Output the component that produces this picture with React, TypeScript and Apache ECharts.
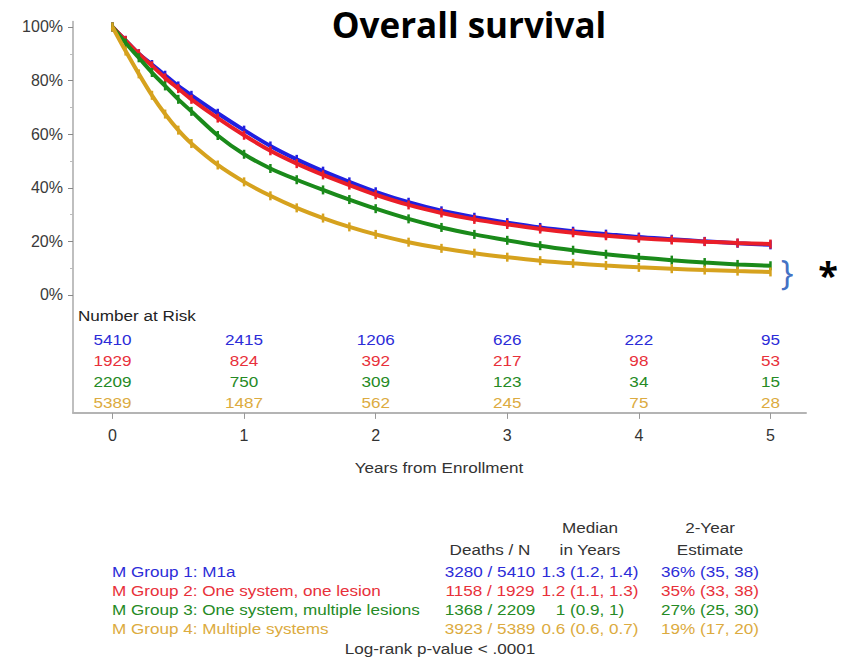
import React, { useEffect, useRef } from 'react';
import * as echarts from 'echarts';

// ---- data ----
const TIMES = [0, 0.1, 0.2, 0.3, 0.4, 0.5, 0.6, 0.8, 1.0, 1.2, 1.4, 1.6, 1.8, 2.0, 2.25, 2.5, 2.75, 3.0, 3.25, 3.5, 3.75, 4.0, 4.25, 4.5, 4.75, 5.0];
const SURV_G1 = [100, 95, 90, 86, 82, 78, 74.5, 67.8, 61.5, 55.6, 50.6, 46.2, 42.2, 38.5, 34.6, 31.4, 29.0, 27.0, 25.2, 23.8, 22.7, 21.6, 20.8, 20.0, 19.3, 18.7];
const SURV_G2 = [100, 95, 90, 85.5, 81, 77, 73, 66, 59.6, 53.8, 49, 44.8, 41, 37.4, 33.6, 30.6, 28.2, 26.3, 24.6, 23.2, 22.1, 21.2, 20.5, 19.9, 19.4, 19.0];
const SURV_G3 = [100, 94, 88.5, 83, 78, 73, 68.5, 59.5, 52.5, 47.2, 43.0, 39.2, 35.6, 32.2, 28.4, 25.2, 22.6, 20.4, 18.4, 16.7, 15.2, 14.0, 13.0, 12.1, 11.4, 10.9];
const SURV_G4 = [100, 91, 82.5, 74.5, 67.5, 61.5, 56.5, 48.5, 42.2, 37, 32.5, 28.7, 25.4, 22.6, 19.7, 17.4, 15.6, 14.1, 12.8, 11.8, 11.0, 10.3, 9.8, 9.3, 8.9, 8.6];

const GROUP_NAMES = [
  'M Group 1: M1a',
  'M Group 2: One system, one lesion',
  'M Group 3: One system, multiple lesions',
  'M Group 4: Multiple systems',
];
const RISK_TIMES = [0, 1, 2, 3, 4, 5];
const RISK_G1 = [5410, 2415, 1206, 626, 222, 95];
const RISK_G2 = [1929, 824, 392, 217, 98, 53];
const RISK_G3 = [2209, 750, 309, 123, 34, 15];
const RISK_G4 = [5389, 1487, 562, 245, 75, 28];
const DEATHS_N = ['3280 / 5410', '1158 / 1929', '1368 / 2209', '3923 / 5389'];
const MEDIANS = ['1.3 (1.2, 1.4)', '1.2 (1.1, 1.3)', '1 (0.9, 1)', '0.6 (0.6, 0.7)'];
const EST_2YR = ['36% (35, 38)', '35% (33, 38)', '27% (25, 30)', '19% (17, 20)'];
const Y_TICKS = [0, 20, 40, 60, 80, 100];
const Y_MINOR = [10, 30, 50, 70, 90];
const X_TICKS = [0, 1, 2, 3, 4, 5];

// ---- styling / layout ----
const LINE_COLORS = ['#2020e0', '#ea1e28', '#1a8a1a', '#d6a21e'];
const TEXT_COLORS = ['#2c2cd8', '#e8303a', '#258a25', '#dcab40'];
const RISK_ROW_Y = [-16.4, -24.3, -32.1, -39.9];
const FONT = "'Liberation Sans', Arial, sans-serif";
const STRETCH = 1.14;

export default function App() {
  const ref = useRef<HTMLDivElement>(null);
  useEffect(() => {
    if (!ref.current) return;
    const chart = echarts.init(ref.current, undefined, { renderer: 'svg' });
    const survs = [SURV_G1, SURV_G2, SURV_G3, SURV_G4];
    const risks = [RISK_G1, RISK_G2, RISK_G3, RISK_G4];

    const curveSeries = survs.map((s, g) => ({
      type: 'line',
      name: GROUP_NAMES[g],
      data: TIMES.map((t, i) => [t, s[i]]),
      smooth: 0.3,
      showSymbol: true,
      symbol: 'rect',
      symbolSize: [2.5, 9],
      lineStyle: { color: LINE_COLORS[g], width: 4 },
      itemStyle: { color: LINE_COLORS[g] },
      z: 2 + g,
    }));

    const txt = (text: string, x: number, y: number, color: string, align = 'center', size = 15) => ({
      type: 'text',
      x,
      y,
      scaleX: STRETCH,
      style: { text, fill: color, font: `${size}px ${FONT}`, textAlign: align, textVerticalAlign: 'middle' },
    });

    const colX = { deaths: 490, median: 590, est: 710 };
    const rowY = [571, 590, 609, 628];
    const tableText: any[] = [];
    tableText.push(txt('Median', colX.median, 527, '#333'));
    tableText.push(txt('2-Year', colX.est, 527, '#333'));
    tableText.push(txt('Deaths / N', colX.deaths, 549, '#333'));
    tableText.push(txt('in Years', colX.median, 549, '#333'));
    tableText.push(txt('Estimate', colX.est, 549, '#333'));
    GROUP_NAMES.forEach((n, g) => {
      tableText.push(txt(n, 112, rowY[g], TEXT_COLORS[g], 'left'));
      tableText.push(txt(DEATHS_N[g], colX.deaths, rowY[g], TEXT_COLORS[g]));
      tableText.push(txt(MEDIANS[g], colX.median, rowY[g], TEXT_COLORS[g]));
      tableText.push(txt(EST_2YR[g], colX.est, rowY[g], TEXT_COLORS[g]));
    });
    tableText.push(txt('Log-rank p-value < .0001', 440, 648, '#333'));

    const option: any = {
      animation: false,
      backgroundColor: '#ffffff',
      textStyle: { fontFamily: FONT },
      grid: { left: 73, right: 35, top: 21.6, height: 391.3 },
      xAxis: {
        type: 'value',
        min: -0.3,
        max: 5.27,
        axisLine: { show: true, onZero: false, lineStyle: { color: '#b4b4b4', width: 2 } },
        axisTick: { show: true, customValues: X_TICKS, length: 6, lineStyle: { color: '#999' } },
        axisLabel: { customValues: X_TICKS, margin: 15, fontSize: 16, color: '#333', fontFamily: FONT },
        splitLine: { show: false },
      },
      yAxis: [
        {
          type: 'value',
          min: -44,
          max: 102,
          axisLine: { show: true, onZero: false, lineStyle: { color: '#aaaaaa', width: 1.5 } },
          axisTick: { show: true, customValues: Y_TICKS, length: 5, lineStyle: { color: '#888' } },
          axisLabel: {
            customValues: Y_TICKS,
            formatter: (v: number) => v + '%',
            margin: 10,
            fontSize: 16,
            color: '#3a3a3a',
            fontFamily: FONT,
          },
          splitLine: { show: false },
        },
        {
          type: 'value',
          min: -44,
          max: 102,
          position: 'left',
          axisLine: { show: false, onZero: false },
          axisTick: { show: true, customValues: Y_MINOR, length: 3, lineStyle: { color: '#bbb' } },
          axisLabel: { show: false },
          splitLine: { show: false },
        },
      ],
      series: curveSeries,
    };
    chart.setOption(option);

    // Number-at-risk labels placed through the chart's own axes
    const riskText: any[] = [];
    risks.forEach((r, g) => {
      RISK_TIMES.forEach((t, i) => {
        const p = chart.convertToPixel({ gridIndex: 0 }, [t, RISK_ROW_Y[g]]) as number[];
        riskText.push(txt(String(r[i]), p[0], p[1], TEXT_COLORS[g]));
      });
    });

    chart.setOption({
      graphic: [
        {
          type: 'text',
          x: 469,
          y: 24,
          style: {
            text: 'Overall survival',
            fill: '#000',
            font: "bold 35px 'Open Sans', sans-serif",
            textAlign: 'center',
            textVerticalAlign: 'middle',
          },
        },
        txt('Number at Risk', 78, 315, '#222', 'left'),
        txt('Years from Enrollment', 439, 467, '#333'),
        {
          type: 'text',
          x: 787,
          y: 272,
          style: { text: '}', fill: '#4472C4', font: "34px 'Open Sans', sans-serif", textAlign: 'center', textVerticalAlign: 'middle' },
        },
        {
          type: 'text',
          x: 828,
          y: 274,
          style: { text: '*', fill: '#000', font: "bold 36px 'Open Sans', sans-serif", textAlign: 'center', textVerticalAlign: 'middle' },
        },
        ...riskText,
        ...tableText,
      ],
    });
    return () => chart.dispose();
  }, []);
  return <div ref={ref} style={{ position: 'fixed', left: 0, top: 0, width: 841, height: 665 }} />;
}
